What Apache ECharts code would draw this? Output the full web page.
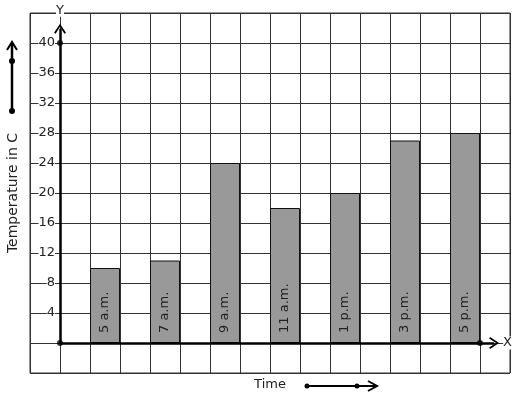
<!DOCTYPE html>
<html>
<head>
<meta charset="utf-8">
<script src="https://cdn.jsdelivr.net/npm/echarts@6/dist/echarts.min.js"></script>
<style>html,body{margin:0;padding:0;background:#fff}#c{width:517px;height:399px}</style>
</head>
<body>
<div id="c"></div>
<script>
const times = ['5 a.m.', '7 a.m.', '9 a.m.', '11 a.m.', '1 p.m.', '3 p.m.', '5 p.m.'];
const temps = [10, 11, 24, 18, 20, 27, 28];
const yTickLabels = [4, 8, 12, 16, 20, 24, 28, 32, 36, 40];

const FONT = 'DejaVu Sans';
const chevron = 'path://M0,9 L6,0 L12,9 L10.4,10 L6,3 L1.6,10 Z';

const barData = times.map((t, i) => ({ value: [1.5 + 2 * i, temps[i]], name: t }));

const chart = echarts.init(document.getElementById('c'), null, { renderer: 'canvas' });
chart.setOption({
  animation: false,
  backgroundColor: '#fff',
  grid: { left: 30, top: 13, width: 480, height: 360, show: true, borderColor: '#333', borderWidth: 1, backgroundColor: 'transparent', containLabel: false, outerBoundsMode: 'none' },
  xAxis: {
    type: 'value', min: -1, max: 15, interval: 1,
    axisLine: { show: false }, axisTick: { show: false }, axisLabel: { show: false },
    splitLine: { show: true, lineStyle: { color: '#333', width: 1 } },
    name: 'Time', nameLocation: 'middle', nameGap: 5,
    nameTextStyle: { fontFamily: FONT, fontSize: 13, color: '#222', verticalAlign: 'top' }
  },
  yAxis: {
    type: 'value', min: -4, max: 44, interval: 4,
    axisLine: { show: false }, axisTick: { show: false },
    axisLabel: {
      inside: true, margin: 25, align: 'right', fontFamily: FONT, fontSize: 13, color: '#222',
      backgroundColor: '#fff', padding: [0, 0],
      formatter: v => yTickLabels.indexOf(v) >= 0 ? String(v) : ''
    },
    splitLine: { show: true, lineStyle: { color: '#333', width: 1 } },
    name: 'Temperature in C', nameLocation: 'middle', nameRotate: 90, nameGap: 10,
    nameTextStyle: { fontFamily: FONT, fontSize: 14, color: '#222', verticalAlign: 'bottom' }
  },
  series: [
    {
      type: 'bar', data: barData, barWidth: 30, z: 2,
      itemStyle: { color: '#999999', borderColor: '#111', borderWidth: 1 },
      label: {
        show: true, position: 'insideBottom', rotate: 90, align: 'left', verticalAlign: 'middle',
        distance: 10, fontFamily: FONT, fontSize: 13, color: '#222',
        formatter: p => p.name
      },
      markLine: {
        silent: true, animation: false, z: 5,
        symbol: ['none', chevron], symbolSize: [12, 10],
        lineStyle: { color: '#000', width: 2.5, type: 'solid' },
        label: { show: true, position: 'end', fontFamily: FONT, fontSize: 13, color: '#222', backgroundColor: '#fff', distance: 9 },
        data: [
          [{ coord: [0, 0] }, { coord: [14.47, 0], label: { formatter: 'X' } }],
          [{ coord: [0, 0] }, { coord: [0, 41.9], label: { formatter: 'Y', distance: 12 } }]
        ]
      }
    },
    {
      type: 'scatter', z: 6, symbolSize: 6, itemStyle: { color: '#000' }, silent: true,
      data: [[0, 0], [0, 40], [14, 0]]
    }
  ],
  graphic: [
    { type: 'line', shape: { x1: 12, y1: 111, x2: 12, y2: 43 }, style: { stroke: '#000', lineWidth: 2.5 } },
    { type: 'polyline', shape: { points: [[7, 50], [12, 42], [17, 50]] }, style: { stroke: '#000', lineWidth: 2, fill: null } },
    { type: 'circle', shape: { cx: 12, cy: 111, r: 3 }, style: { fill: '#000' } },
    { type: 'circle', shape: { cx: 12, cy: 61, r: 3 }, style: { fill: '#000' } },
    { type: 'line', shape: { x1: 307, y1: 386, x2: 376, y2: 386 }, style: { stroke: '#000', lineWidth: 2 } },
    { type: 'polyline', shape: { points: [[368, 381], [377, 386], [368, 391]] }, style: { stroke: '#000', lineWidth: 2, fill: null } },
    { type: 'circle', shape: { cx: 307, cy: 386, r: 2.5 }, style: { fill: '#000' } },
    { type: 'circle', shape: { cx: 357, cy: 386, r: 2.5 }, style: { fill: '#000' } }
  ]
});
</script>
</body>
</html>
